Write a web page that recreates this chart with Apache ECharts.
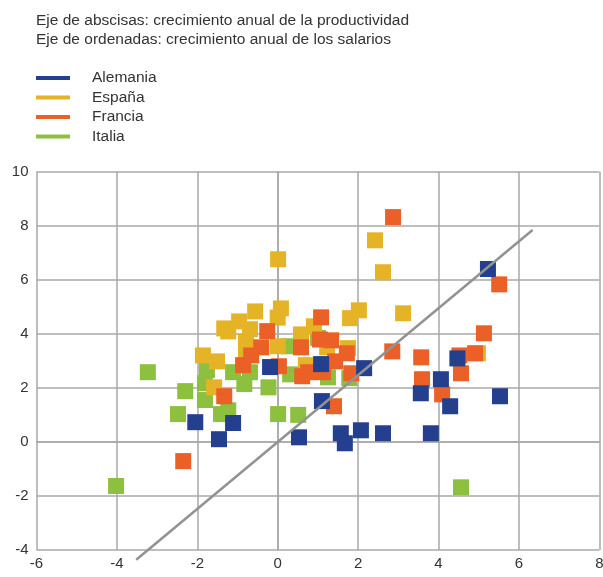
<!DOCTYPE html>
<html>
<head>
    <meta charset="utf-8"/>
    <script src="https://cdn.jsdelivr.net/npm/echarts@6/dist/echarts.min.js"></script>
    <style>
        html, body { margin: 0; padding: 0; background: #fff; }
    </style>
</head>
<body>
<div id="main" style="width: 603px;height:577px;"></div>
<script type="text/javascript">
    // 数据：x = crecimiento productividad, y = crecimiento salarios
    var titleLines = [
        'Eje de abscisas: crecimiento anual de la productividad',
        'Eje de ordenadas: crecimiento anual de los salarios'
    ];
    var countries = ['Alemania', 'España', 'Francia', 'Italia'];
    var colors = ['#233f8e', '#e4b426', '#eb6026', '#8dc03f'];

    var alemania = [
        [5.23, 6.4], [5.53, 1.69], [4.47, 3.09], [4.06, 2.32], [3.56, 1.8], [4.29, 1.32],
        [3.81, 0.32], [2.62, 0.32], [2.07, 0.43], [1.57, 0.32], [1.67, -0.05], [2.15, 2.73],
        [1.1, 1.51], [0.53, 0.17], [-2.05, 0.73], [-1.11, 0.7], [-1.46, 0.1], [-0.19, 2.77],
        [1.08, 2.88]
    ];
    var espana = [
        [2.42, 7.46], [2.62, 6.28], [3.12, 4.76], [2.02, 4.87], [1.8, 4.58], [1.75, 3.47],
        [0.01, 6.76], [-0.56, 4.83], [0.08, 4.94], [0.0, 4.6], [-0.96, 4.46], [-1.33, 4.2],
        [-1.23, 4.09], [0.58, 3.98], [0.9, 4.28], [0.0, 3.54], [-1.86, 3.2], [-1.51, 2.98],
        [-1.58, 2.02], [-0.69, 4.17], [-0.79, 3.72], [-0.79, 3.35], [0.7, 2.84], [1.23, 3.5],
        [4.98, 3.28]
    ];
    var francia = [
        [2.87, 8.32], [5.51, 5.83], [5.13, 4.02], [2.85, 3.35], [3.57, 3.13], [3.59, 2.32],
        [4.09, 1.76], [4.56, 2.54], [4.91, 3.28], [4.52, 3.2], [1.4, 1.32], [1.08, 4.61],
        [-0.26, 4.1], [-0.41, 3.5], [-0.66, 3.2], [-0.86, 2.84], [-1.33, 1.69], [-2.35, -0.71],
        [0.58, 3.5], [1.05, 3.79], [1.33, 3.76], [1.72, 3.28], [1.43, 2.98], [0.03, 2.8],
        [0.61, 2.43], [1.13, 2.58], [1.83, 2.54], [0.76, 2.58]
    ];
    var italia = [
        [-3.23, 2.58], [-2.3, 1.88], [-2.48, 1.03], [-4.02, -1.63], [-1.76, 2.66], [-1.81, 2.17],
        [-1.81, 1.55], [-1.41, 1.03], [-1.11, 2.58], [-1.23, 1.17], [-0.83, 2.14], [-0.23, 2.02],
        [0.01, 1.03], [0.51, 1.0], [-0.69, 2.58], [0.28, 3.54], [0.31, 2.5], [1.25, 2.39],
        [1.78, 2.36], [1.0, 3.85], [4.56, -1.68]
    ];
    // recta de referencia
    var lineX = [-3.52, 6.34];
    var lineY = [-4.36, 7.84];

    var seriesData = [alemania, espana, francia, italia];

    var chartDom = document.getElementById('main');
    var myChart = echarts.init(chartDom);
    var option;

    var font = 'Liberation Sans, Arial, sans-serif';
    var gridLine = { color: '#a9a9a9', width: 1.5 };

    // Italia debajo, Alemania encima
    var scatter = [3, 1, 2, 0].map(function (i) {
        return {
            name: countries[i],
            type: 'scatter',
            symbol: 'rect',
            symbolSize: 16,
            itemStyle: { color: colors[i], opacity: 1 },
            data: seriesData[i],
            z: 2
        };
    });

    option = {
        animation: false,
        textStyle: { fontFamily: font },
        graphic: [{
            type: 'text',
            left: 36,
            top: 11,
            style: {
                text: titleLines.join('\n'),
                font: '15.5px ' + font,
                fill: '#333',
                lineHeight: 19
            }
        }],
        legend: {
            orient: 'vertical',
            left: 36,
            top: 70,
            padding: 0,
            itemWidth: 34,
            itemHeight: 4,
            itemGap: 3.5,
            data: countries.map(function (c, i) {
                return { name: c, icon: 'rect', itemStyle: { color: colors[i] } };
            }),
            textStyle: { fontSize: 15.5, color: '#333', fontFamily: font, padding: [0, 0, 0, 17] }
        },
        grid: {
            left: 36.5,
            right: 3.7,
            top: 171.7,
            bottom: 27,
            outerBoundsMode: 'none'
        },
        xAxis: {
            type: 'value',
            min: -6,
            max: 8,
            interval: 2,
            axisLine: { show: true, lineStyle: gridLine },
            axisTick: { show: false },
            axisLabel: { color: '#333', fontSize: 15, margin: 6, fontFamily: font },
            splitLine: { show: true, lineStyle: gridLine }
        },
        yAxis: {
            type: 'value',
            min: -4,
            max: 10,
            interval: 2,
            axisLine: { show: true, lineStyle: gridLine },
            axisTick: { show: false },
            axisLabel: { color: '#333', fontSize: 15, margin: 8, fontFamily: font },
            splitLine: { show: true, lineStyle: gridLine }
        },
        series: scatter.concat([{
            name: 'recta',
            type: 'line',
            data: [[lineX[0], lineY[0]], [lineX[1], lineY[1]]],
            symbol: 'none',
            clip: false,
            lineStyle: { color: '#929292', width: 2.5 },
            z: 3
        }])
    };

    option && myChart.setOption(option);
</script>
</body>
</html>
